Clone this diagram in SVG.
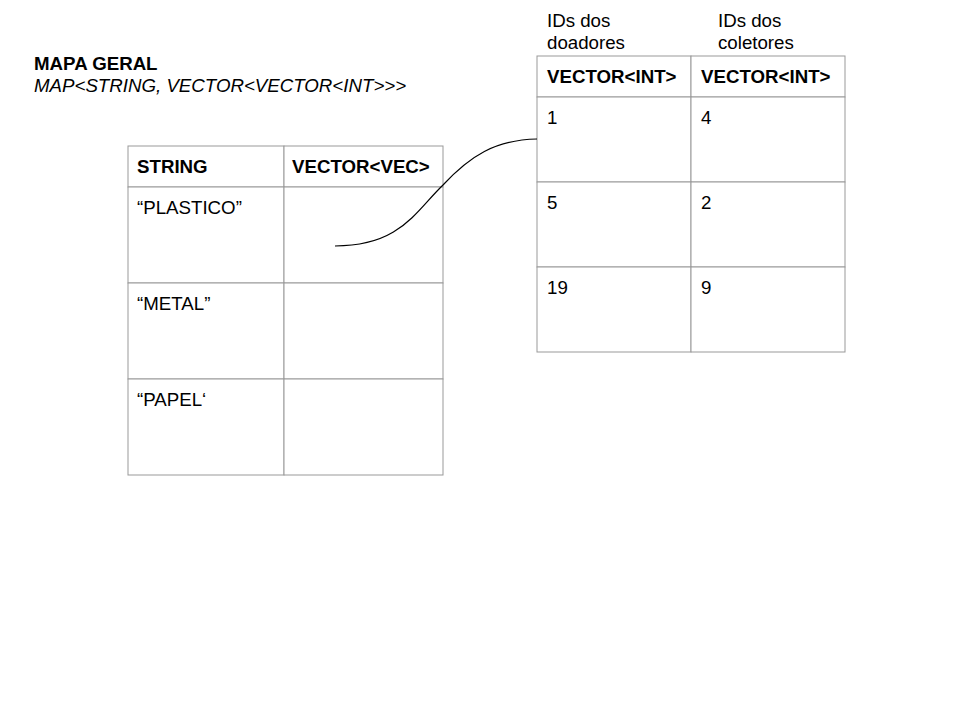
<svg xmlns="http://www.w3.org/2000/svg" width="960" height="720" viewBox="0 0 960 720">
<style>
text{font-family:"Liberation Sans",Arial,sans-serif;font-size:18.7px;fill:#000}
.b{font-weight:bold}
.i{font-style:italic}
.cell{fill:#fff;stroke:#999;stroke-width:1}
.conn{fill:none;stroke:#000;stroke-width:1.2}
</style>
<rect width="960" height="720" fill="#fff"/>
<g id="title">
<text class="b" x="34" y="70">MAPA GERAL</text>
<text class="i" x="34" y="92">MAP&lt;STRING, VECTOR&lt;VECTOR&lt;INT&gt;&gt;&gt;</text>
</g>
<g id="map-table">
<rect class="cell" x="128" y="146" width="156" height="41"/>
<rect class="cell" x="284" y="146" width="159" height="41"/>
<rect class="cell" x="128" y="187" width="156" height="96"/>
<rect class="cell" x="284" y="187" width="159" height="96"/>
<rect class="cell" x="128" y="283" width="156" height="96"/>
<rect class="cell" x="284" y="283" width="159" height="96"/>
<rect class="cell" x="128" y="379" width="156" height="96"/>
<rect class="cell" x="284" y="379" width="159" height="96"/>
<text class="b" x="137" y="173">STRING</text>
<text class="b" x="292" y="173">VECTOR&lt;VEC&gt;</text>
<text x="137" y="214">“PLASTICO”</text>
<text x="137" y="310">“METAL”</text>
<text x="137" y="406">“PAPEL‘</text>
</g>
<g id="vector-table">
<text x="547" y="27">IDs dos</text>
<text x="547" y="49">doadores</text>
<text x="718" y="27">IDs dos</text>
<text x="718" y="49">coletores</text>
<rect class="cell" x="537" y="56" width="154" height="41"/>
<rect class="cell" x="691" y="56" width="154" height="41"/>
<rect class="cell" x="537" y="97" width="154" height="85"/>
<rect class="cell" x="691" y="97" width="154" height="85"/>
<rect class="cell" x="537" y="182" width="154" height="85"/>
<rect class="cell" x="691" y="182" width="154" height="85"/>
<rect class="cell" x="537" y="267" width="154" height="85"/>
<rect class="cell" x="691" y="267" width="154" height="85"/>
<text class="b" x="547" y="83">VECTOR&lt;INT&gt;</text>
<text class="b" x="701" y="83">VECTOR&lt;INT&gt;</text>
<text x="547" y="124">1</text>
<text x="701" y="124">4</text>
<text x="547" y="209">5</text>
<text x="701" y="209">2</text>
<text x="547" y="294">19</text>
<text x="701" y="294">9</text>
</g>
<g id="connectors">
<path class="conn" d="M335,246 C400,246 415,212 443,185 C470,156 495,140 537,139"/>
</g>
</svg>
